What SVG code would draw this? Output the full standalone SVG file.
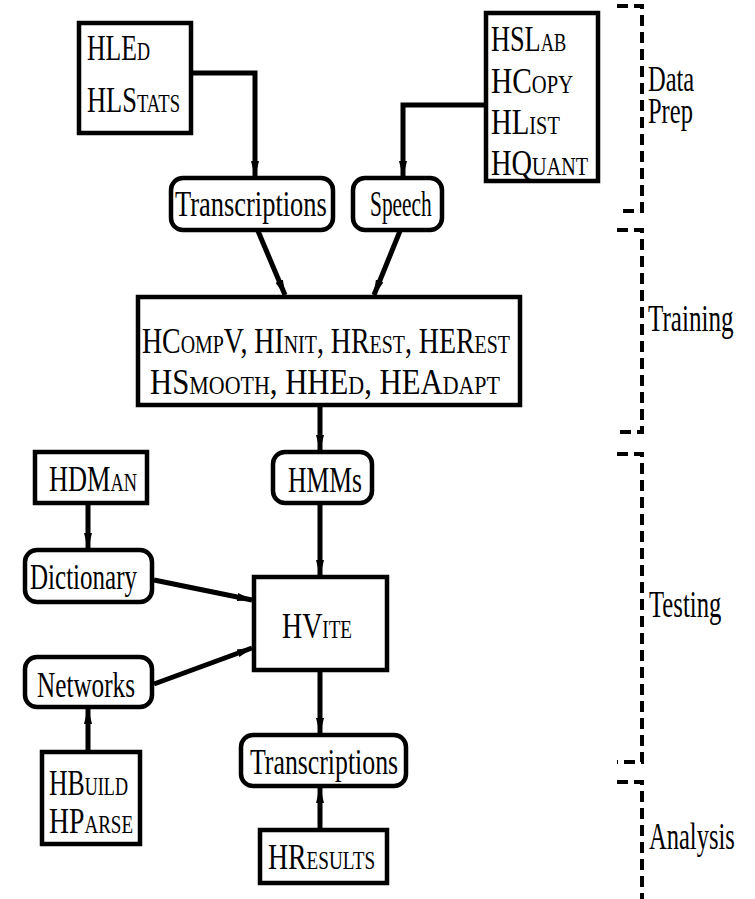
<svg xmlns="http://www.w3.org/2000/svg" width="755" height="899" viewBox="0 0 755 899">
<defs>
<marker id="arr" viewBox="0 0 16 10" refX="15" refY="5" markerWidth="16" markerHeight="10" markerUnits="userSpaceOnUse" orient="auto">
<path d="M0,1 L16,5 L0,9 Z" fill="#000"/>
</marker>
</defs>
<style>
text{font-family:"Liberation Serif","Times New Roman",serif;font-size:36px;fill:#000}
.tool{font-variant:small-caps}
.box{fill:#fff;stroke:#000;stroke-width:4.5}
.conn{fill:none;stroke:#000;stroke-width:5;marker-end:url(#arr)}
.brk{fill:none;stroke:#000;stroke-width:4;stroke-dasharray:11 6}
.side{font-size:38px}
</style>
<rect width="755" height="899" fill="#fff"/>
<g id="connectors">
<path class="conn" d="M191,73 H255 V176"/>
<path class="conn" d="M486,105 H403 V176"/>
<path class="conn" d="M258,231 L285,295"/>
<path class="conn" d="M400,231 L374,295"/>
<path class="conn" d="M320,407 V450"/>
<path class="conn" d="M320,505 V575"/>
<path class="conn" d="M320,672 V733"/>
<path class="conn" d="M320,830 V788"/>
<path class="conn" d="M88,505 V548"/>
<path class="conn" d="M88,752 V709"/>
<path class="conn" d="M154,580 L252,600"/>
<path class="conn" d="M154,684 L252,648"/>
</g>
<g id="hled">
<rect class="box" x="79" y="23" width="112" height="110"/>
<text class="tool" transform="translate(87,60) scale(0.715,1)" textLength="88" lengthAdjust="spacingAndGlyphs">HLEd</text>
<text class="tool" transform="translate(87,112) scale(0.71,1)" textLength="131" lengthAdjust="spacingAndGlyphs">HLStats</text>
</g>
<g id="hslab">
<rect class="box" x="486" y="13" width="112" height="168"/>
<text class="tool" transform="translate(491,51) scale(0.73,1)" textLength="103" lengthAdjust="spacingAndGlyphs">HSLab</text>
<text class="tool" transform="translate(491,93) scale(0.82,1)" textLength="100" lengthAdjust="spacingAndGlyphs">HCopy</text>
<text class="tool" transform="translate(491,134) scale(0.8,1)" textLength="86" lengthAdjust="spacingAndGlyphs">HList</text>
<text class="tool" transform="translate(491,175) scale(0.795,1)" textLength="122" lengthAdjust="spacingAndGlyphs">HQuant</text>
</g>
<g id="transcriptions1">
<rect class="box" x="171" y="178" width="162" height="52" rx="12"/>
<text transform="translate(175,216) scale(0.73,1)" textLength="208" lengthAdjust="spacingAndGlyphs">Transcriptions</text>
</g>
<g id="speech">
<rect class="box" x="353" y="178" width="89" height="52" rx="12"/>
<text transform="translate(370,216) scale(0.6,1)" textLength="103" lengthAdjust="spacingAndGlyphs">Speech</text>
</g>
<g id="training">
<rect class="box" x="138" y="297" width="382" height="108"/>
<text class="tool" transform="translate(142,353) scale(0.773,1)" textLength="476" lengthAdjust="spacingAndGlyphs">HCompV, HInit, HRest, HERest</text>
<text class="tool" transform="translate(150,394) scale(0.862,1)" textLength="406" lengthAdjust="spacingAndGlyphs">HSmooth, HHEd, HEAdapt</text>
</g>
<g id="hmms">
<rect class="box" x="273" y="452" width="99" height="51" rx="12"/>
<text transform="translate(288,492) scale(0.71,1)" textLength="104" lengthAdjust="spacingAndGlyphs">HMMs</text>
</g>
<g id="hdman">
<rect class="box" x="35" y="452" width="112" height="51"/>
<text class="tool" transform="translate(49,491) scale(0.733,1)" textLength="120" lengthAdjust="spacingAndGlyphs">HDMan</text>
</g>
<g id="dictionary">
<rect class="box" x="25" y="550" width="127" height="52" rx="12"/>
<text transform="translate(30,589) scale(0.695,1)" textLength="154" lengthAdjust="spacingAndGlyphs">Dictionary</text>
</g>
<g id="hvite">
<rect class="box" x="254" y="577" width="133" height="93"/>
<text class="tool" transform="translate(282,638) scale(0.77,1)" textLength="91" lengthAdjust="spacingAndGlyphs">HVite</text>
</g>
<g id="networks">
<rect class="box" x="25" y="657" width="127" height="50" rx="12"/>
<text transform="translate(37,697) scale(0.7,1)" textLength="140" lengthAdjust="spacingAndGlyphs">Networks</text>
</g>
<g id="hbuild">
<rect class="box" x="42" y="752" width="98" height="92"/>
<text class="tool" transform="translate(49,795) scale(0.718,1)" textLength="110" lengthAdjust="spacingAndGlyphs">HBuild</text>
<text class="tool" transform="translate(49,833) scale(0.764,1)" textLength="110" lengthAdjust="spacingAndGlyphs">HParse</text>
</g>
<g id="transcriptions2">
<rect class="box" x="241" y="735" width="165" height="51" rx="12"/>
<text transform="translate(250,774) scale(0.712,1)" textLength="208" lengthAdjust="spacingAndGlyphs">Transcriptions</text>
</g>
<g id="hresults">
<rect class="box" x="260" y="830" width="127" height="53"/>
<text class="tool" transform="translate(268,869) scale(0.754,1)" textLength="142" lengthAdjust="spacingAndGlyphs">HResults</text>
</g>
<g id="stages">
<path class="brk" d="M617,6 H642 V211 H617"/>
<path class="brk" d="M617,230 H642 V432 H617"/>
<path class="brk" d="M617,454 H642 V762 H617"/>
<path class="brk" d="M617,782 H642 V899"/>
<text class="side" style="font-size:35px" transform="translate(648,91) scale(0.7,1)"><tspan x="0" y="0">Data</tspan><tspan x="0" y="32">Prep</tspan></text>
<text class="side" transform="translate(648,331) scale(0.66,1)">Training</text>
<text class="side" transform="translate(649,617) scale(0.65,1)">Testing</text>
<text class="side" transform="translate(649,849) scale(0.645,1)">Analysis</text>
</g>
</svg>
